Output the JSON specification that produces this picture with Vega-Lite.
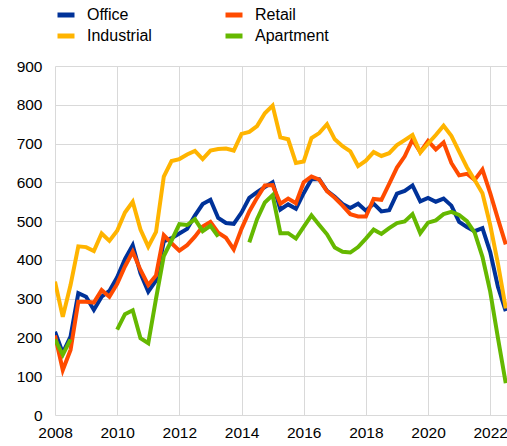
{
  "$schema": "https://vega.github.io/schema/vega-lite/v6.json",
  "width": 452,
  "height": 349,
  "autosize": {"type": "none"},
  "padding": {"left": 55, "top": 66, "right": 0, "bottom": 31},
  "background": "white",
  "config": {
    "view": {"stroke": null},
    "font": "Liberation Sans",
    "axis": {"labelFont": "Liberation Sans", "labelColor": "#000", "labelFontSize": 15.5, "gridColor": "#d9d9d9", "gridWidth": 1, "domain": false, "ticks": false, "title": null},
    "legend": {"labelFont": "Liberation Sans", "labelColor": "#000", "labelFontSize": 16}
  },
  "data": {
    "values": [
      {"t": 2008, "Office": 215, "Retail": 205, "Industrial": 344, "Apartment": 195},
      {"t": 2008.25, "Office": 160, "Retail": 116, "Industrial": 253, "Apartment": 155},
      {"t": 2008.5, "Office": 202, "Retail": 168, "Industrial": 335, "Apartment": 195},
      {"t": 2008.75, "Office": 314, "Retail": 292, "Industrial": 435, "Apartment": null},
      {"t": 2009, "Office": 305, "Retail": 292, "Industrial": 433, "Apartment": null},
      {"t": 2009.25, "Office": 271, "Retail": 290, "Industrial": 423, "Apartment": null},
      {"t": 2009.5, "Office": 305, "Retail": 322, "Industrial": 468, "Apartment": null},
      {"t": 2009.75, "Office": 320, "Retail": 305, "Industrial": 449, "Apartment": null},
      {"t": 2010, "Office": 355, "Retail": 338, "Industrial": 475, "Apartment": 220},
      {"t": 2010.25, "Office": 402, "Retail": 383, "Industrial": 522, "Apartment": 260},
      {"t": 2010.5, "Office": 438, "Retail": 421, "Industrial": 550, "Apartment": 270},
      {"t": 2010.75, "Office": 365, "Retail": 374, "Industrial": 478, "Apartment": 198},
      {"t": 2011, "Office": 318, "Retail": 335, "Industrial": 434, "Apartment": 185},
      {"t": 2011.25, "Office": 347, "Retail": 360, "Industrial": 472, "Apartment": 300},
      {"t": 2011.5, "Office": 448, "Retail": 464, "Industrial": 615, "Apartment": 410},
      {"t": 2011.75, "Office": 456, "Retail": 443, "Industrial": 655, "Apartment": 450},
      {"t": 2012, "Office": 468, "Retail": 424, "Industrial": 660, "Apartment": 492},
      {"t": 2012.25, "Office": 480, "Retail": 438, "Industrial": 672, "Apartment": 490},
      {"t": 2012.5, "Office": 514, "Retail": 460, "Industrial": 681, "Apartment": 505},
      {"t": 2012.75, "Office": 544, "Retail": 486, "Industrial": 660, "Apartment": 474},
      {"t": 2013, "Office": 555, "Retail": 498, "Industrial": 682, "Apartment": 488},
      {"t": 2013.25, "Office": 508, "Retail": 470, "Industrial": 686, "Apartment": 460},
      {"t": 2013.5, "Office": 495, "Retail": 457, "Industrial": 687, "Apartment": null},
      {"t": 2013.75, "Office": 493, "Retail": 427, "Industrial": 682, "Apartment": null},
      {"t": 2014, "Office": 522, "Retail": 480, "Industrial": 725, "Apartment": null},
      {"t": 2014.25, "Office": 560, "Retail": 525, "Industrial": 730, "Apartment": 445},
      {"t": 2014.5, "Office": 575, "Retail": 560, "Industrial": 745, "Apartment": 505},
      {"t": 2014.75, "Office": 588, "Retail": 592, "Industrial": 778, "Apartment": 548},
      {"t": 2015, "Office": 600, "Retail": 593, "Industrial": 798, "Apartment": 567},
      {"t": 2015.25, "Office": 530, "Retail": 545, "Industrial": 716, "Apartment": 469},
      {"t": 2015.5, "Office": 543, "Retail": 558, "Industrial": 711, "Apartment": 469},
      {"t": 2015.75, "Office": 532, "Retail": 546, "Industrial": 650, "Apartment": 455},
      {"t": 2016, "Office": 572, "Retail": 600, "Industrial": 654, "Apartment": 485},
      {"t": 2016.25, "Office": 608, "Retail": 615, "Industrial": 714, "Apartment": 515},
      {"t": 2016.5, "Office": 608, "Retail": 607, "Industrial": 727, "Apartment": 490},
      {"t": 2016.75, "Office": 578, "Retail": 577, "Industrial": 750, "Apartment": 466},
      {"t": 2017, "Office": 563, "Retail": 560, "Industrial": 711, "Apartment": 432},
      {"t": 2017.25, "Office": 544, "Retail": 540, "Industrial": 693, "Apartment": 421},
      {"t": 2017.5, "Office": 534, "Retail": 518, "Industrial": 680, "Apartment": 419},
      {"t": 2017.75, "Office": 545, "Retail": 512, "Industrial": 642, "Apartment": 433},
      {"t": 2018, "Office": 527, "Retail": 512, "Industrial": 656, "Apartment": 455},
      {"t": 2018.25, "Office": 545, "Retail": 557, "Industrial": 678, "Apartment": 478},
      {"t": 2018.5, "Office": 525, "Retail": 555, "Industrial": 668, "Apartment": 467},
      {"t": 2018.75, "Office": 528, "Retail": 596, "Industrial": 675, "Apartment": 482},
      {"t": 2019, "Office": 571, "Retail": 638, "Industrial": 696, "Apartment": 495},
      {"t": 2019.25, "Office": 578, "Retail": 667, "Industrial": 709, "Apartment": 499},
      {"t": 2019.5, "Office": 592, "Retail": 710, "Industrial": 722, "Apartment": 518},
      {"t": 2019.75, "Office": 551, "Retail": 678, "Industrial": 677, "Apartment": 469},
      {"t": 2020, "Office": 560, "Retail": 707, "Industrial": 700, "Apartment": 496},
      {"t": 2020.25, "Office": 550, "Retail": 685, "Industrial": 722, "Apartment": 502},
      {"t": 2020.5, "Office": 558, "Retail": 703, "Industrial": 746, "Apartment": 518},
      {"t": 2020.75, "Office": 540, "Retail": 650, "Industrial": 720, "Apartment": 524},
      {"t": 2021, "Office": 498, "Retail": 618, "Industrial": 679, "Apartment": 516},
      {"t": 2021.25, "Office": 485, "Retail": 622, "Industrial": 639, "Apartment": 500},
      {"t": 2021.5, "Office": 474, "Retail": 606, "Industrial": 606, "Apartment": 470},
      {"t": 2021.75, "Office": 482, "Retail": 633, "Industrial": 572, "Apartment": 408},
      {"t": 2022, "Office": 420, "Retail": 572, "Industrial": 490, "Apartment": 318},
      {"t": 2022.25, "Office": 330, "Retail": 505, "Industrial": 390, "Apartment": 198},
      {"t": 2022.5, "Office": 268, "Retail": 440, "Industrial": 275, "Apartment": 82}
    ]
  },
  "transform": [
    {"fold": ["Office", "Retail", "Industrial", "Apartment"], "as": ["series", "value"]}
  ],
  "mark": {"type": "line", "strokeWidth": 4, "invalid": "break-paths-filter-domains", "strokeJoin": "miter", "clip": true},
  "encoding": {
    "x": {
      "field": "t", "type": "quantitative",
      "scale": {"domain": [2008, 2022.54], "nice": false, "zero": false},
      "axis": {"values": [2008, 2010, 2012, 2014, 2016, 2018, 2020, 2022], "format": "d", "labelPadding": 10, "labelFlush": false, "labelOverlap": false}
    },
    "y": {
      "field": "value", "type": "quantitative",
      "scale": {"domain": [0, 900], "nice": false},
      "axis": {"values": [0, 100, 200, 300, 400, 500, 600, 700, 800, 900], "labelPadding": 13}
    },
    "color": {
      "field": "series", "type": "nominal",
      "scale": {"domain": ["Office", "Retail", "Industrial", "Apartment"], "range": ["#003299", "#FF4B00", "#FFB400", "#65B800"]},
      "legend": {
        "title": null, "orient": "none", "legendX": 0, "legendY": -62, "columns": 2,
        "columnPadding": 63, "rowPadding": 0, "padding": 0,
        "symbolType": "stroke", "symbolSize": 289, "symbolStrokeWidth": 5,
        "labelOffset": 10, "direction": "horizontal"
      }
    }
  }
}
